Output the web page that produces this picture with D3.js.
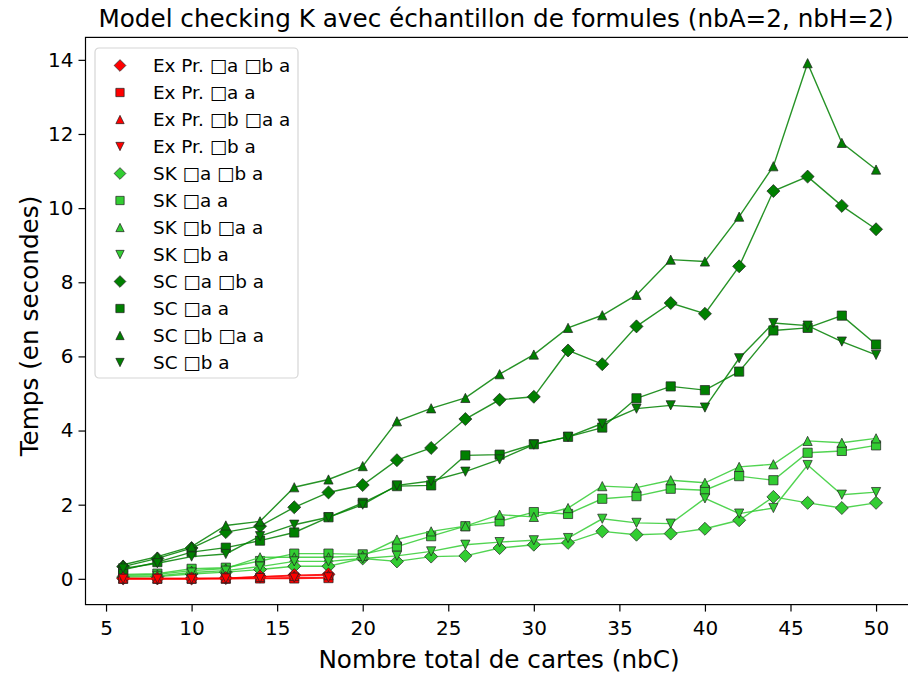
<!DOCTYPE html>
<html>
<head>
<meta charset="utf-8">
<script src="https://cdn.jsdelivr.net/npm/d3@7"></script>
<style>
  html, body { margin: 0; padding: 0; background: #fff; }
  svg { display: block; overflow: hidden; }
  text { font-family: "DejaVu Sans", sans-serif; fill: #000; }
</style>
</head>
<body>
<svg id="chart" width="908" height="675"></svg>
<script>
// Number of cards (x) for each family of runs
const nbCShort = [6, 8, 10, 12, 14, 16, 18];
const nbCLong = [6, 8, 10, 12, 14, 16, 18, 20, 22, 24, 26, 28, 30, 32, 34, 36, 38, 40, 42, 44, 46, 48, 50];

// Exhaustive procedure timings (seconds)
const exPrAB = [0.01, 0.01, 0.01, 0.02, 0.06, 0.10, 0.12];
const exPrA = [0.00, 0.00, 0.00, 0.00, 0.01, 0.01, 0.02];
const exPrBA = [0.01, 0.01, 0.01, 0.02, 0.05, 0.08, 0.10];
const exPrB = [0.00, 0.00, 0.00, 0.01, 0.02, 0.03, 0.04];

// SK timings (seconds)
const skAB = [0.05, 0.06, 0.13, 0.18, 0.25, 0.34, 0.34, 0.55, 0.47, 0.60, 0.62, 0.83, 0.92, 0.97, 1.28, 1.19, 1.22, 1.35, 1.58, 2.21, 2.05, 1.91, 2.05];
const skA = [0.12, 0.14, 0.27, 0.30, 0.48, 0.68, 0.68, 0.66, 0.87, 1.15, 1.42, 1.55, 1.80, 1.75, 2.16, 2.23, 2.43, 2.39, 2.77, 2.66, 3.40, 3.45, 3.60];
const skBA = [0.10, 0.12, 0.22, 0.28, 0.58, 0.58, 0.58, 0.62, 1.06, 1.28, 1.42, 1.73, 1.67, 1.91, 2.50, 2.46, 2.66, 2.59, 3.02, 3.09, 3.72, 3.67, 3.79];
const skB = [0.08, 0.08, 0.17, 0.22, 0.33, 0.47, 0.47, 0.55, 0.62, 0.74, 0.92, 0.99, 1.04, 1.10, 1.62, 1.51, 1.49, 2.17, 1.76, 1.91, 3.07, 2.27, 2.34];

// SC timings (seconds)
const scAB = [0.33, 0.55, 0.83, 1.26, 1.42, 1.93, 2.33, 2.53, 3.20, 3.53, 4.31, 4.83, 4.91, 6.16, 5.79, 6.81, 7.44, 7.15, 8.43, 10.46, 10.85, 10.06, 9.43];
const scA = [0.24, 0.45, 0.72, 0.84, 1.03, 1.25, 1.66, 2.05, 2.50, 2.52, 3.33, 3.35, 3.63, 3.83, 4.08, 4.87, 5.19, 5.09, 5.59, 6.70, 6.77, 7.10, 6.32];
const scBA = [0.38, 0.60, 0.87, 1.44, 1.55, 2.47, 2.68, 3.04, 4.25, 4.60, 4.88, 5.52, 6.05, 6.77, 7.11, 7.66, 8.61, 8.56, 9.77, 11.13, 13.91, 11.76, 11.04];
const scB = [0.28, 0.42, 0.60, 0.67, 1.15, 1.46, 1.66, 2.00, 2.52, 2.64, 2.89, 3.22, 3.62, 3.83, 4.19, 4.59, 4.68, 4.62, 5.95, 6.90, 6.83, 6.40, 6.04];

// Tick labels
const xTicks = [5, 10, 15, 20, 25, 30, 35, 40, 45, 50];
const yTicks = [0, 2, 4, 6, 8, 10, 12, 14];

const series = [
  { label: "Ex Pr. \u25A1a \u25A1b a", x: nbCShort, y: exPrAB, color: "#ff0000", marker: "D" },
  { label: "Ex Pr. \u25A1a a",        x: nbCShort, y: exPrA,  color: "#ff0000", marker: "s" },
  { label: "Ex Pr. \u25A1b \u25A1a a", x: nbCShort, y: exPrBA, color: "#ff0000", marker: "^" },
  { label: "Ex Pr. \u25A1b a",        x: nbCShort, y: exPrB,  color: "#ff0000", marker: "v" },
  { label: "SK \u25A1a \u25A1b a",    x: nbCLong,  y: skAB,   color: "#32cd32", marker: "D" },
  { label: "SK \u25A1a a",            x: nbCLong,  y: skA,    color: "#32cd32", marker: "s" },
  { label: "SK \u25A1b \u25A1a a",    x: nbCLong,  y: skBA,   color: "#32cd32", marker: "^" },
  { label: "SK \u25A1b a",            x: nbCLong,  y: skB,    color: "#32cd32", marker: "v" },
  { label: "SC \u25A1a \u25A1b a",    x: nbCLong,  y: scAB,   color: "#008000", marker: "D" },
  { label: "SC \u25A1a a",            x: nbCLong,  y: scA,    color: "#008000", marker: "s" },
  { label: "SC \u25A1b \u25A1a a",    x: nbCLong,  y: scBA,   color: "#008000", marker: "^" },
  { label: "SC \u25A1b a",            x: nbCLong,  y: scB,    color: "#008000", marker: "v" }
];

const svg = d3.select("#chart");
const plot = { left: 85.5, right: 913.7, top: 37.4, bottom: 604.6 };

const allY = series.flatMap(s => s.y);
const yMax = d3.max(allY), yMin = 0;
const yPad = (yMax - yMin) * 0.05;
const x = d3.scaleLinear().domain([6 - 2.2, 50 + 2.2]).range([plot.left, plot.right]);
const y = d3.scaleLinear().domain([yMin - yPad, yMax + yPad]).range([plot.bottom, plot.top]);

// Marker shapes
const ms = 9.2;
function markerPath(kind, size) {
  const h = size / 2;
  const p = d3.path();
  if (kind === "s") {
    p.rect(-h, -h, size, size);
  } else if (kind === "D") {
    const r = h * Math.SQRT2;
    p.moveTo(0, -r); p.lineTo(r, 0); p.lineTo(0, r); p.lineTo(-r, 0); p.closePath();
  } else if (kind === "^") {
    p.moveTo(0, -h); p.lineTo(h, h); p.lineTo(-h, h); p.closePath();
  } else {
    p.moveTo(0, h); p.lineTo(h, -h); p.lineTo(-h, -h); p.closePath();
  }
  return p.toString();
}

// Axes
const xAxis = d3.axisBottom(x).tickValues(xTicks).tickSize(7).tickPadding(9).tickFormat(d3.format("d"));
const yAxis = d3.axisLeft(y).tickValues(yTicks).tickSize(7).tickPadding(5).tickFormat(d3.format("d"));

const gx = svg.append("g").attr("transform", `translate(0,${plot.bottom})`).call(xAxis);
const gy = svg.append("g").attr("transform", `translate(${plot.left},0)`).call(yAxis);
[gx, gy].forEach(g => {
  g.select(".domain").remove();
  g.selectAll(".tick line").attr("stroke", "#000").attr("stroke-width", 1.2);
  g.selectAll(".tick text").style("font-family", "DejaVu Sans").style("font-size", "20px").attr("fill", "#000");
});

// Lines and markers (green families first, red on top)
const order = [4, 5, 6, 7, 8, 9, 10, 11, 0, 1, 2, 3];
const line = d3.line().x(d => x(d[0])).y(d => y(d[1]));
const gData = svg.append("g");
order.forEach(i => {
  const s = series[i];
  const pts = s.x.map((v, k) => [v, s.y[k]]);
  const g = gData.append("g");
  g.append("path").datum(pts)
    .attr("d", line).attr("fill", "none")
    .attr("stroke", s.color).attr("stroke-width", 1.4).attr("stroke-opacity", 0.85);
  g.selectAll("path.m").data(pts).join("path").attr("class", "m")
    .attr("d", markerPath(s.marker, ms))
    .attr("transform", d => `translate(${x(d[0])},${y(d[1])})`)
    .attr("fill", s.color).attr("stroke", "#222").attr("stroke-width", 0.9).attr("stroke-opacity", 0.8);
});

// Frame (right side lies beyond the visible width)
svg.append("rect")
  .attr("x", plot.left).attr("y", plot.top)
  .attr("width", plot.right - plot.left).attr("height", plot.bottom - plot.top)
  .attr("fill", "none").attr("stroke", "#000").attr("stroke-width", 1.2);

// Legend
const leg = svg.append("g").attr("transform", "translate(95,48)");
leg.append("rect").attr("width", 203).attr("height", 330).attr("rx", 4)
  .attr("fill", "#fff").attr("fill-opacity", 0.8).attr("stroke", "#d6d6d6").attr("stroke-width", 1.2);
series.forEach((s, i) => {
  const cy = 17.5 + i * 27.0;
  leg.append("path").attr("d", markerPath(s.marker, 8.3))
    .attr("transform", `translate(25,${cy})`)
    .attr("fill", s.color).attr("stroke", "#222").attr("stroke-width", 0.9).attr("stroke-opacity", 0.8);
  leg.append("text").attr("x", 58).attr("y", cy).attr("dy", "0.35em")
    .style("font-size", "18.4px").text(s.label);
});

// Titles
svg.append("text").attr("x", 496).attr("y", 27)
  .attr("text-anchor", "middle").style("font-size", "24.7px")
  .text("Model checking K avec \u00e9chantillon de formules (nbA=2, nbH=2)");
svg.append("text").attr("x", 499).attr("y", 668)
  .attr("text-anchor", "middle").style("font-size", "24.7px")
  .text("Nombre total de cartes (nbC)");
svg.append("text").attr("transform", "translate(29,326) rotate(-90)")
  .attr("text-anchor", "middle").attr("dy", "0.35em").style("font-size", "24.7px")
  .text("Temps (en secondes)");
</script>
</body>
</html>
